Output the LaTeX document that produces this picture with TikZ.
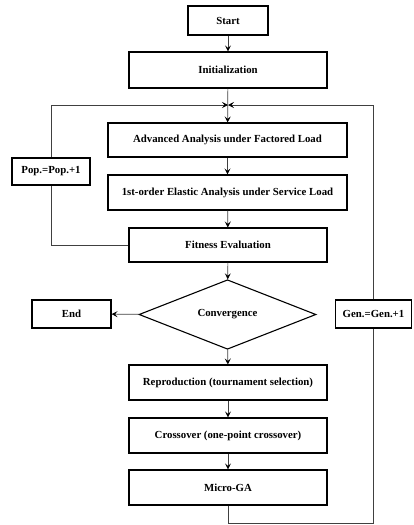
\documentclass[tikz,border=0pt]{standalone}
\usepackage{fontspec}
\setmainfont{Liberation Serif}
\usetikzlibrary{shapes.geometric,arrows.meta}
\begin{document}
\begin{tikzpicture}[x=1pt,y=-1pt,
  box/.style={draw=black,line width=1.1pt,fill=white,inner sep=0pt,font=\fontsize{10.8}{12}\selectfont\bfseries},
  conn/.style={draw=black!75,line width=0.7pt},
  arr/.style={conn,-{Stealth[length=6pt,width=6pt,inset=2.5pt,black]}}]
\useasboundingbox (0,0) rectangle (413,525);
\node[box,minimum width=80pt,minimum height=29pt] (start) at (228,20.5) {Start};
\node[box,minimum width=198pt,minimum height=36pt] (init) at (228,70) {Initialization};
\node[box,minimum width=239pt,minimum height=34pt] (adv) at (227.5,140) {Advanced Analysis under Factored Load};
\node[box,minimum width=239pt,minimum height=35pt] (first) at (227.5,192.5) {1st-order Elastic Analysis under Service Load};
\node[box,minimum width=198pt,minimum height=34pt] (fit) at (228,245) {Fitness Evaluation};
\node[box,minimum width=78pt,minimum height=27pt] (pop) at (51,171.5) {Pop.=Pop.+1};
\node[box,shape=diamond,minimum width=177pt,minimum height=67pt] (conv) at (227.5,314.5) {Convergence};
\node[box,minimum width=79pt,minimum height=28pt] (end) at (71.5,314) {End};
\node[box,minimum width=76pt,minimum height=28pt] (gen) at (373.5,314) {Gen.=Gen.+1};
\node[box,minimum width=198pt,minimum height=35pt] (rep) at (228,382.5) {Reproduction (tournament selection)};
\node[box,minimum width=198pt,minimum height=35pt] (cross) at (228,435.5) {Crossover (one-point crossover)};
\node[box,minimum width=198pt,minimum height=35pt] (micro) at (228,487.5) {Micro-GA};
\coordinate (j) at (228,105);
\draw[arr] (start) -- (init);
\draw[arr] (init) -- (adv);
\draw[arr] (adv) -- (first);
\draw[arr] (first) -- (fit);
\draw[arr] (fit) -- (conv);
\draw[arr] (conv) -- (end);
\draw[arr] (conv) -- (rep);
\draw[arr] (rep) -- (cross);
\draw[arr] (cross) -- (micro);
\draw[conn] (fit.west) -| (pop.south);
\draw[arr] (pop.north) |- (j);
\draw[conn] (micro.south) -- ++(0,18) -| (gen.south);
\draw[arr] (gen.north) |- (j);
\end{tikzpicture}
\end{document}
